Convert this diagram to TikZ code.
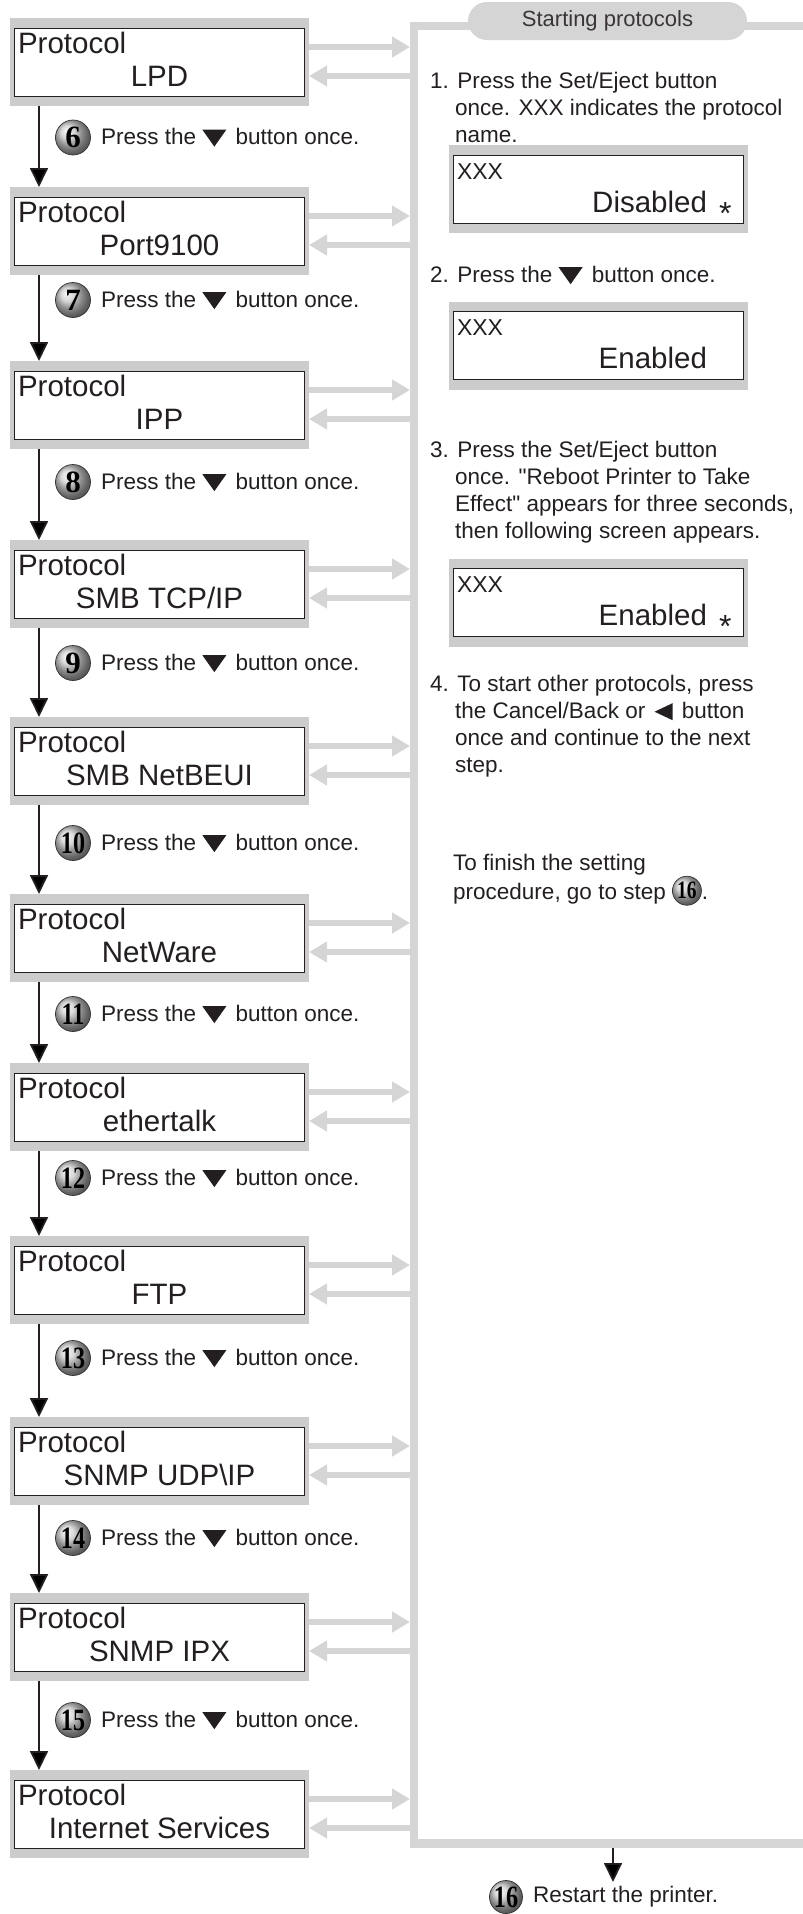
\documentclass[tikz,border=0pt]{standalone}
\usepackage{fontspec}
\setmainfont{Liberation Sans}
\newfontfamily\ballfont{Liberation Serif}
\usepackage{graphicx}
\usepackage{xcolor}
\usepackage{tikz}
\usetikzlibrary{positioning, arrows.meta}

\definecolor{framegray}{RGB}{204,204,204}
\definecolor{panelgray}{RGB}{213,213,213}
\definecolor{inkgray}{RGB}{35,31,32}

\tikzset{
	lcd/.style={rectangle, fill=framegray, minimum width=299pt, minimum height=88pt, inner sep=0pt, outer sep=0pt,
		font=\fontsize{29.5}{33}\selectfont, text=inkgray,
		path picture={\draw[fill=white, draw=inkgray, line width=0.9pt] ([shift={(4pt,-10pt)}]path picture bounding box.north west) rectangle ([shift={(-5pt,10pt)}]path picture bounding box.south east);}},
	stepball/.style={circle, ball color=white!80!black, draw=black!80, line width=0.7pt, minimum size=35pt, inner sep=0pt,
		font=\ballfont\bfseries\fontsize{31}{31}\selectfont, text=black},
	steptext/.style={inner sep=0pt, text=inkgray, font=\fontsize{22.5}{27}\selectfont},
	paneltext/.style={inner sep=0pt, align=left, text=inkgray, font=\fontsize{22.5}{27}\selectfont},
	stepline/.style={draw=inkgray, line width=1.8pt, -{Triangle[width=18pt,length=19pt]}},
	grayarrow/.style={draw=panelgray, line width=6.5pt, -{Triangle[width=20pt,length=18pt]}},
	panelline/.style={draw=panelgray, line width=8.5pt},
	titlepill/.style={rectangle, rounded corners=19pt, fill=panelgray, minimum width=279pt, minimum height=38pt, inner sep=0pt,
		text=inkgray!90, font=\fontsize{22}{22}\selectfont}
}

% keys and numbers used inside the texts
\newcommand{\downkey}{\tikz[baseline=0pt]\fill[inkgray] (0pt,15pt) -- (24pt,15pt) -- (12pt,-2pt) -- cycle;}
\newcommand{\leftkey}{\tikz[baseline=0pt]\fill[inkgray] (0pt,6.5pt) -- (18pt,15pt) -- (18pt,-2pt) -- cycle;}
\newcommand{\twodig}[1]{\scalebox{0.78}[1]{#1}}
\newcommand{\ballnum}[1]{\raisebox{-6.5pt}{\tikz\node[stepball, minimum size=29pt, font=\ballfont\bfseries\fontsize{25}{25}\selectfont]{\twodig{#1}};}}
\newcommand{\lcdtext}[2]{\parbox[c][68pt][t]{290pt}{\rule{0pt}{25pt}\hspace*{3.5pt}#1\\\makebox[\linewidth]{#2}}}
\newcommand{\xxxtext}[2]{\parbox[c][68pt][t]{289pt}{\rule{0pt}{24pt}\hspace*{3pt}{\fontsize{23}{23}\selectfont XXX}\\\makebox[253pt][r]{#1}#2}}
\newcommand{\lcdstar}{\hspace{12pt}\raisebox{-12pt}[0pt][0pt]{\fontsize{32}{32}\selectfont *}}

\begin{document}
\begin{tikzpicture}[x=1pt, y=-1pt]
	\useasboundingbox (0, 0) rectangle (803, 1914);

	% Panel on the right:
	\coordinate (panel) at (410, 0);
	\draw[panelline] (803, 26) -- (414, 26) -- (414, 1843.5) -- (803, 1843.5);
	\node[titlepill] (title) at (607.5, 21){Starting protocols};

	% Protocol screens:
	\node[lcd] (lpd) at (159.5, 62){\lcdtext{Protocol}{LPD}};
	\node[lcd] (port) at (159.5, 231){\lcdtext{Protocol}{Port9100}};
	\node[lcd] (ipp) at (159.5, 405){\lcdtext{Protocol}{IPP}};
	\node[lcd] (smbtcp) at (159.5, 584){\lcdtext{Protocol}{SMB TCP/IP}};
	\node[lcd] (netbeui) at (159.5, 761){\lcdtext{Protocol}{SMB NetBEUI}};
	\node[lcd] (netware) at (159.5, 938){\lcdtext{Protocol}{NetWare}};
	\node[lcd] (ether) at (159.5, 1107){\lcdtext{Protocol}{ethertalk}};
	\node[lcd] (ftp) at (159.5, 1280){\lcdtext{Protocol}{FTP}};
	\node[lcd] (snmpudp) at (159.5, 1461){\lcdtext{Protocol}{SNMP UDP\textbackslash IP}};
	\node[lcd] (snmpipx) at (159.5, 1637){\lcdtext{Protocol}{SNMP IPX}};
	\node[lcd] (inet) at (159.5, 1814){\lcdtext{Protocol}{Internet Services}};

	% Steps between the screens:
	\node[stepball] (n6) at (73, 137.5){6};
	\node[steptext, right=10pt of n6] (p6){Press the \downkey\hspace{3pt} button once.};
	\node[stepball] (n7) at (73, 300){7};
	\node[steptext, right=10pt of n7] (p7){Press the \downkey\hspace{3pt} button once.};
	\node[stepball] (n8) at (73, 482){8};
	\node[steptext, right=10pt of n8] (p8){Press the \downkey\hspace{3pt} button once.};
	\node[stepball] (n9) at (73, 663){9};
	\node[steptext, right=10pt of n9] (p9){Press the \downkey\hspace{3pt} button once.};
	\node[stepball] (n10) at (73, 843){\twodig{10}};
	\node[steptext, right=10pt of n10] (p10){Press the \downkey\hspace{3pt} button once.};
	\node[stepball] (n11) at (73, 1014){\twodig{11}};
	\node[steptext, right=10pt of n11] (p11){Press the \downkey\hspace{3pt} button once.};
	\node[stepball] (n12) at (73, 1178){\twodig{12}};
	\node[steptext, right=10pt of n12] (p12){Press the \downkey\hspace{3pt} button once.};
	\node[stepball] (n13) at (73, 1358){\twodig{13}};
	\node[steptext, right=10pt of n13] (p13){Press the \downkey\hspace{3pt} button once.};
	\node[stepball] (n14) at (73, 1538){\twodig{14}};
	\node[steptext, right=10pt of n14] (p14){Press the \downkey\hspace{3pt} button once.};
	\node[stepball] (n15) at (73, 1720){\twodig{15}};
	\node[steptext, right=10pt of n15] (p15){Press the \downkey\hspace{3pt} button once.};

	\draw[stepline] ([xshift=29pt]lpd.south west) -- ([xshift=29pt]port.north west);
	\draw[stepline] ([xshift=29pt]port.south west) -- ([xshift=29pt]ipp.north west);
	\draw[stepline] ([xshift=29pt]ipp.south west) -- ([xshift=29pt]smbtcp.north west);
	\draw[stepline] ([xshift=29pt]smbtcp.south west) -- ([xshift=29pt]netbeui.north west);
	\draw[stepline] ([xshift=29pt]netbeui.south west) -- ([xshift=29pt]netware.north west);
	\draw[stepline] ([xshift=29pt]netware.south west) -- ([xshift=29pt]ether.north west);
	\draw[stepline] ([xshift=29pt]ether.south west) -- ([xshift=29pt]ftp.north west);
	\draw[stepline] ([xshift=29pt]ftp.south west) -- ([xshift=29pt]snmpudp.north west);
	\draw[stepline] ([xshift=29pt]snmpudp.south west) -- ([xshift=29pt]snmpipx.north west);
	\draw[stepline] ([xshift=29pt]snmpipx.south west) -- ([xshift=29pt]inet.north west);

	% Arrows to and from the panel:
	\draw[grayarrow] ([yshift=15pt]lpd.east) -- ([yshift=15pt]lpd.east -| panel);
	\draw[grayarrow] ([yshift=-14pt]lpd.east -| panel) -- ([yshift=-14pt]lpd.east);
	\draw[grayarrow] ([yshift=15pt]port.east) -- ([yshift=15pt]port.east -| panel);
	\draw[grayarrow] ([yshift=-14pt]port.east -| panel) -- ([yshift=-14pt]port.east);
	\draw[grayarrow] ([yshift=15pt]ipp.east) -- ([yshift=15pt]ipp.east -| panel);
	\draw[grayarrow] ([yshift=-14pt]ipp.east -| panel) -- ([yshift=-14pt]ipp.east);
	\draw[grayarrow] ([yshift=15pt]smbtcp.east) -- ([yshift=15pt]smbtcp.east -| panel);
	\draw[grayarrow] ([yshift=-14pt]smbtcp.east -| panel) -- ([yshift=-14pt]smbtcp.east);
	\draw[grayarrow] ([yshift=15pt]netbeui.east) -- ([yshift=15pt]netbeui.east -| panel);
	\draw[grayarrow] ([yshift=-14pt]netbeui.east -| panel) -- ([yshift=-14pt]netbeui.east);
	\draw[grayarrow] ([yshift=15pt]netware.east) -- ([yshift=15pt]netware.east -| panel);
	\draw[grayarrow] ([yshift=-14pt]netware.east -| panel) -- ([yshift=-14pt]netware.east);
	\draw[grayarrow] ([yshift=15pt]ether.east) -- ([yshift=15pt]ether.east -| panel);
	\draw[grayarrow] ([yshift=-14pt]ether.east -| panel) -- ([yshift=-14pt]ether.east);
	\draw[grayarrow] ([yshift=15pt]ftp.east) -- ([yshift=15pt]ftp.east -| panel);
	\draw[grayarrow] ([yshift=-14pt]ftp.east -| panel) -- ([yshift=-14pt]ftp.east);
	\draw[grayarrow] ([yshift=15pt]snmpudp.east) -- ([yshift=15pt]snmpudp.east -| panel);
	\draw[grayarrow] ([yshift=-14pt]snmpudp.east -| panel) -- ([yshift=-14pt]snmpudp.east);
	\draw[grayarrow] ([yshift=15pt]snmpipx.east) -- ([yshift=15pt]snmpipx.east -| panel);
	\draw[grayarrow] ([yshift=-14pt]snmpipx.east -| panel) -- ([yshift=-14pt]snmpipx.east);
	\draw[grayarrow] ([yshift=15pt]inet.east) -- ([yshift=15pt]inet.east -| panel);
	\draw[grayarrow] ([yshift=-14pt]inet.east -| panel) -- ([yshift=-14pt]inet.east);

	% Texts and screens in the panel:
	\node[paneltext, anchor=north west] (step1) at (430, 71){\rule{0pt}{17pt}1. Press the Set/Eject button\\\hspace*{25pt}once. XXX indicates the protocol\\\hspace*{25pt}name.};
	\node[lcd] (scr1) at (598.5, 189){\xxxtext{Disabled}{\lcdstar}};
	\node[paneltext, anchor=north west] (step2) at (430, 265){\rule{0pt}{17pt}2. Press the \downkey\hspace{3pt} button once.};
	\node[lcd] (scr2) at (598.5, 345.5){\xxxtext{Enabled}{}};
	\node[paneltext, anchor=north west] (step3) at (430, 440){\rule{0pt}{17pt}3. Press the Set/Eject button\\\hspace*{25pt}once. \textquotedbl Reboot Printer to Take\\\hspace*{25pt}Effect\textquotedbl\ appears for three seconds,\\\hspace*{25pt}then following screen appears.};
	\node[lcd] (scr3) at (598.5, 602.5){\xxxtext{Enabled}{\lcdstar}};
	\node[paneltext, anchor=north west] (step4) at (430, 674){\rule{0pt}{17pt}4. To start other protocols, press\\\hspace*{25pt}the Cancel/Back or\hspace{3pt} \leftkey\hspace{3pt} button\\\hspace*{25pt}once and continue to the next\\\hspace*{25pt}step.};
	\node[paneltext, anchor=north west] (finish) at (453, 853){\rule{0pt}{17pt}To finish the setting\\procedure, go to step \ballnum{16}.};

	% Last step:
	\coordinate (panelout) at (613, 1848);
	\coordinate (restartin) at (613, 1882);
	\draw[stepline] (panelout) -- (restartin);
	\node[stepball, minimum size=33pt] (n16) at (506, 1897){\twodig{16}};
	\node[steptext, right=10pt of n16] (restart){Restart the printer.};
\end{tikzpicture}
\end{document}
